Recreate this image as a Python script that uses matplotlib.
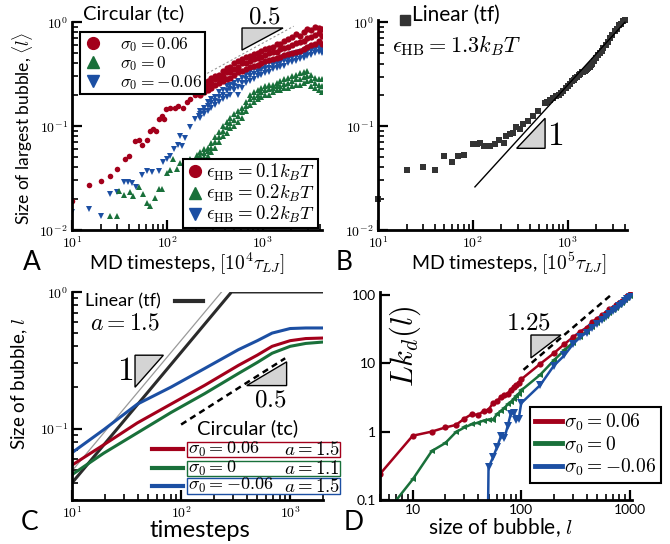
import math
import matplotlib
matplotlib.use('Agg')
import matplotlib.pyplot as plt
from matplotlib.patches import Polygon, Rectangle
from matplotlib.lines import Line2D
from matplotlib import ticker

plt.rcParams['font.family'] = ['Lato', 'DejaVu Sans']
plt.rcParams['mathtext.fontset'] = 'cm'
plt.rcParams['axes.linewidth'] = 2

RED = '#a3001b'
GREEN = '#19703a'
BLUE = '#1c4fa3'
DARK = '#333333'
TRI = '#d4d4d4'

# ---------------- panel A data (circular, tc) ----------------
a_red_x = [10, 15, 20, 25, 30, 36, 40, 46, 51, 54, 61, 66, 71, 76, 81, 87, 93, 98, 106, 120, 129, 145, 161, 173, 196, 210]
a_red_y = [0.019, 0.027, 0.0295, 0.033, 0.039, 0.048, 0.052, 0.072, 0.074, 0.065, 0.073, 0.089, 0.093, 0.089, 0.116,
           0.125, 0.116, 0.145, 0.150, 0.148, 0.156, 0.150, 0.17, 0.18, 0.197, 0.217]
a_blue_x = [10, 15, 20, 25, 29.5, 35, 39, 42.5, 47, 54, 61, 69, 81, 91, 99, 107, 118, 128, 136, 143, 155, 174, 197, 213]
a_blue_y = [0.0149, 0.0158, 0.0135, 0.022, 0.023, 0.029, 0.029, 0.028, 0.026, 0.034, 0.037, 0.036, 0.037, 0.045,
            0.048, 0.051, 0.060, 0.066, 0.080, 0.064, 0.077, 0.097, 0.116, 0.125]
a_green_x = [25, 30, 31, 35, 41, 44, 50, 56, 61, 66, 75, 81, 87, 99, 107, 116, 125, 137, 155, 174, 205]
a_green_y = [0.0136, 0.0136, 0.0235, 0.0216, 0.023, 0.021, 0.026, 0.022, 0.0183, 0.017, 0.0205, 0.0246, 0.0246,
             0.0356, 0.038, 0.048, 0.039, 0.044, 0.046, 0.048, 0.053]

# dense late-time part: upper edge, middle and lower edge of each cloud
a_dense_x = [220, 240, 265, 290, 320, 350, 385, 420, 460, 505, 555, 610, 670, 735, 805, 885, 970, 1065, 1170,
             1280, 1400, 1540, 1690, 1850, 2030, 2230, 2450, 2690, 2950, 3240, 3550, 3900, 4150]
a_red_hi = [0.25, 0.23, 0.27, 0.29, 0.30, 0.31, 0.34, 0.36, 0.37, 0.40, 0.42, 0.44, 0.46, 0.47, 0.49, 0.50, 0.53,
            0.55, 0.56, 0.58, 0.61, 0.62, 0.65, 0.68, 0.72, 0.76, 0.74, 0.80, 0.86, 0.84, 0.90, 0.88, 0.86]
a_red_mid = [0.22, 0.25, 0.24, 0.26, 0.28, 0.29, 0.30, 0.33, 0.33, 0.35, 0.37, 0.40, 0.40, 0.42, 0.44, 0.45, 0.46,
             0.48, 0.50, 0.51, 0.52, 0.55, 0.56, 0.58, 0.60, 0.63, 0.64, 0.66, 0.70, 0.72, 0.75, 0.78, 0.74]
a_red_lo = [0.20, 0.21, 0.22, 0.23, 0.25, 0.26, 0.27, 0.28, 0.29, 0.31, 0.33, 0.34, 0.35, 0.37, 0.38, 0.39, 0.40,
            0.42, 0.43, 0.44, 0.45, 0.46, 0.48, 0.49, 0.50, 0.52, 0.53, 0.55, 0.57, 0.60, 0.62, 0.66, 0.62]
a_blue_hi = [0.14, 0.15, 0.17, 0.18, 0.19, 0.21, 0.22, 0.24, 0.25, 0.26, 0.27, 0.29, 0.31, 0.33, 0.35, 0.36, 0.38,
             0.39, 0.40, 0.42, 0.43, 0.44, 0.46, 0.47, 0.49, 0.50, 0.52, 0.53, 0.55, 0.57, 0.58, 0.60, 0.58]
a_blue_mid = [0.13, 0.14, 0.155, 0.165, 0.175, 0.19, 0.20, 0.215, 0.225, 0.24, 0.235, 0.26, 0.285, 0.30, 0.315,
              0.33, 0.345, 0.355, 0.365, 0.385, 0.395, 0.405, 0.42, 0.435, 0.45, 0.46, 0.48, 0.49, 0.51, 0.525,
              0.54, 0.56, 0.54]
a_blue_lo = [0.12, 0.13, 0.14, 0.15, 0.16, 0.17, 0.18, 0.19, 0.20, 0.22, 0.20, 0.23, 0.26, 0.27, 0.28, 0.30, 0.31,
             0.32, 0.33, 0.35, 0.36, 0.37, 0.38, 0.40, 0.41, 0.42, 0.44, 0.45, 0.47, 0.48, 0.50, 0.52, 0.50]
a_green_hi = [0.056, 0.060, 0.062, 0.068, 0.078, 0.088, 0.10, 0.11, 0.12, 0.13, 0.14, 0.15, 0.17, 0.20, 0.21, 0.22,
              0.23, 0.24, 0.25, 0.25, 0.26, 0.27, 0.28, 0.29, 0.30, 0.31, 0.32, 0.33, 0.34, 0.31, 0.29, 0.28, 0.28]
a_green_mid = [0.051, 0.055, 0.057, 0.062, 0.070, 0.079, 0.090, 0.097, 0.107, 0.115, 0.125, 0.135, 0.155, 0.18,
               0.19, 0.20, 0.21, 0.22, 0.225, 0.23, 0.24, 0.245, 0.255, 0.26, 0.27, 0.28, 0.285, 0.295, 0.305,
               0.275, 0.26, 0.25, 0.245]
a_green_lo = [0.047, 0.050, 0.052, 0.056, 0.062, 0.070, 0.080, 0.085, 0.095, 0.10, 0.11, 0.12, 0.14, 0.16, 0.17,
              0.18, 0.19, 0.20, 0.20, 0.21, 0.22, 0.22, 0.23, 0.23, 0.24, 0.25, 0.25, 0.26, 0.27, 0.24, 0.23, 0.22, 0.21]
a_guide_x = [102, 2120]
a_guide_y = [0.20, 0.91]

# ---------------- panel B data (linear, tf) ----------------
b_x = [10, 20, 30, 40, 50, 60, 70, 80, 100, 110, 120, 130, 150, 170, 190, 210, 225, 245, 265, 285, 310, 335, 380,
       430, 490, 570, 600, 650, 700, 750, 800, 850, 900, 950, 1000, 1050, 1100, 1150, 1200, 1250, 1300, 1350,
       1400, 1450, 1500, 1550, 1600, 1650, 1700, 1750, 1800, 1900, 2000, 2100, 2200, 2270, 2350, 2500, 2650,
       2800, 2950, 3140, 3300, 3500, 3650, 3800, 4000]
b_y = [0.020, 0.038, 0.040, 0.0375, 0.051, 0.0455, 0.051, 0.053, 0.067, 0.068, 0.069, 0.064, 0.065, 0.067, 0.073,
       0.069, 0.080, 0.084, 0.086, 0.097, 0.094, 0.104, 0.112, 0.125, 0.139, 0.168, 0.172, 0.18, 0.185, 0.195,
       0.20, 0.21, 0.22, 0.235, 0.245, 0.255, 0.27, 0.28, 0.29, 0.30, 0.31, 0.32, 0.33, 0.335, 0.34, 0.35, 0.355,
       0.36, 0.37, 0.385, 0.40, 0.42, 0.45, 0.48, 0.51, 0.53, 0.56, 0.60, 0.65, 0.70, 0.76, 0.82, 0.87, 0.93,
       0.97, 1.02, 1.05]
b_guide_x = [105, 4000]
b_guide_y = [0.026, 1.0]

# ---------------- panel C data (model curves) ----------------
c_x = [10, 19.5, 39.7, 80.7, 164, 335, 500, 683, 1000, 1390, 2000]
c_blue = [0.0666, 0.098, 0.151, 0.201, 0.275, 0.378, 0.44, 0.50, 0.54, 0.545, 0.545]
c_red = [0.054, 0.076, 0.11, 0.151, 0.207, 0.29, 0.345, 0.40, 0.44, 0.456, 0.46]
c_green = [0.046, 0.066, 0.093, 0.131, 0.18, 0.253, 0.305, 0.356, 0.40, 0.42, 0.43]
c_lin_x = [10, 290, 2000]
c_lin_y = [0.04, 1.0, 1.0]
c_thin_x = [10, 235]
c_thin_y = [0.049, 1.0]
c_dash_x = [100, 900]
c_dash_y = [0.107, 0.327]

# ---------------- panel D data ----------------
d_x = [5, 10, 15, 20, 25, 30, 35, 40, 45, 50, 55, 60, 65, 70, 75, 80, 85, 90, 95, 100, 150, 200, 250, 300, 350,
       400, 450, 500, 550, 600, 650, 700, 750, 800, 850, 900, 950, 1000]
d_red = [0.24, 0.87, 1.0, 1.15, 1.25, 1.55, 1.8, 1.75, 2.0, 2.1, 2.6, 2.8, 3.2, 3.4, 3.6, 4.1, 4.5, 4.8, 5.2, 5.8,
         9.8, 14, 19, 24, 29, 33, 40, 45, 50, 55, 61, 65, 70, 75, 82, 88, 95, 102]
d_green = [0.05, 0.2, 0.52, 0.68, 0.98, 1.15, 1.28, 1.35, 1.45, 1.5, 1.5, 1.8, 2.0, 2.2, 2.5, 2.7, 3.0, 3.3, 3.6,
           4.0, 6.8, 11, 15.5, 20, 24.5, 29, 34, 39, 44, 49, 54, 60, 65, 71, 77, 83, 89, 96]
d_blue_x = [49, 50, 55, 60, 65, 70, 75, 80, 85, 90, 95, 100, 150, 200, 250, 300, 350, 400, 450, 500, 550, 600,
            650, 700, 750, 800, 850, 900, 950, 1000]
d_blue = [0.02, 0.3, 0.42, 0.6, 0.85, 0.8, 1.2, 1.8, 1.9, 1.5, 1.55, 2.6, 4.8, 9.2, 13, 19, 24, 28, 33, 38, 43,
          48, 53, 58, 63, 68, 74, 80, 86, 93]
d_dash_x = [105, 700]
d_dash_y = [8.0, 105]


def sci(v, pos):
    return r'$\mathsf{10^{%d}}$' % round(math.log10(v))


def style(ax):
    ax.spines['top'].set_visible(False)
    ax.spines['right'].set_visible(False)
    ax.tick_params(which='both', direction='in', top=False, right=False, labelsize=10, pad=3)
    ax.tick_params(which='major', length=7, width=1.6)
    ax.tick_params(which='minor', length=4, width=1.2)


def triangle(ax, pts):
    ax.add_patch(Polygon(pts, closed=True, transform=ax.transAxes, facecolor=TRI, edgecolor='black',
                         lw=1.0, clip_on=False, zorder=5))


fig = plt.figure(figsize=(6.7, 5.44), dpi=100)

# ======================= A =======================
axA = fig.add_axes([0.1075, 0.5772, 0.3731, 0.3824])
axA.set_xscale('log')
axA.set_yscale('log')
axA.plot(a_guide_x, a_guide_y, ls=(0, (2, 2)), color='#999999', lw=0.8)
axA.plot(a_blue_x, a_blue_y, 'v', color=BLUE, ms=4.5, mew=0)
for yy in (a_blue_hi, a_blue_mid, a_blue_lo):
    axA.plot(a_dense_x, yy, 'v', color=BLUE, ms=5, mew=0)
axA.plot(a_green_x, a_green_y, '^', color=GREEN, ms=4.5, mew=0)
for yy in (a_green_hi, a_green_mid, a_green_lo):
    axA.plot(a_dense_x, yy, '^', color=GREEN, ms=5, mew=0)
axA.plot(a_red_x, a_red_y, 'o', color=RED, ms=4, mew=0)
for yy in (a_red_hi, a_red_mid, a_red_lo):
    axA.plot(a_dense_x, yy, 'o', color=RED, ms=4.5, mew=0)
axA.set_xlim(10, 4200)
axA.set_ylim(0.01, 1)
style(axA)
axA.xaxis.set_major_formatter(ticker.FuncFormatter(sci))
axA.yaxis.set_major_formatter(ticker.FuncFormatter(sci))
axA.xaxis.set_minor_formatter(ticker.NullFormatter())

h1 = [Line2D([], [], ls='none', marker='o', color=RED, ms=8.5),
      Line2D([], [], ls='none', marker='^', color=GREEN, ms=8.5),
      Line2D([], [], ls='none', marker='v', color=BLUE, ms=8.5)]
leg1 = axA.legend(h1, [r'$\sigma_0 = 0.06$', r'$\sigma_0 = 0$', r'$\sigma_0 = -0.06$'], loc='upper left',
                  bbox_to_anchor=(0.03, 0.95), fontsize=12.5, fancybox=False, edgecolor='black', framealpha=1,
                  borderaxespad=0, handletextpad=1.0, labelspacing=0.0, borderpad=0.15, handlelength=1.2)
leg1.get_frame().set_linewidth(1.5)
axA.add_artist(leg1)
leg2 = axA.legend(h1, [r'$\epsilon_{\mathrm{HB}} = 0.1k_BT$', r'$\epsilon_{\mathrm{HB}} = 0.2k_BT$',
                       r'$\epsilon_{\mathrm{HB}} = 0.2k_BT$'], loc='upper left', bbox_to_anchor=(0.444, 0.341),
                  fontsize=13.5, fancybox=False, edgecolor='black', framealpha=1, borderaxespad=0,
                  handletextpad=0.1, labelspacing=0.0, borderpad=0.15, handlelength=1.0)
leg2.get_frame().set_linewidth(1.5)
leg2.set_zorder(10)

axA.text(0.044, 1.085, 'Circular (tc)', transform=axA.transAxes, fontsize=14.5, va='top', ha='left')
triangle(axA, [(0.68, 0.971), (0.844, 0.971), (0.68, 0.865)])
axA.text(0.77, 1.03, r'$0.5$', transform=axA.transAxes, fontsize=18, ha='center', va='center')

# ======================= B =======================
axB = fig.add_axes([0.5642, 0.5772, 0.3716, 0.3860])
axB.set_xscale('log')
axB.set_yscale('log')
axB.plot(b_x, b_y, 's', color=DARK, ms=4.5, mew=0, clip_on=False)
axB.plot(b_guide_x, b_guide_y, color='black', lw=1.0)
axB.set_xlim(10, 4200)
axB.set_ylim(0.01, 1.05)
style(axB)
axB.xaxis.set_major_formatter(ticker.FuncFormatter(sci))
axB.yaxis.set_major_formatter(ticker.FuncFormatter(sci))
axB.xaxis.set_minor_formatter(ticker.NullFormatter())
axB.yaxis.set_minor_formatter(ticker.NullFormatter())
axB.plot([0.108], [1.0], 's', color=DARK, ms=7, transform=axB.transAxes, clip_on=False)
axB.text(0.135, 1.07, 'Linear (tf)', transform=axB.transAxes, fontsize=15, va='top', ha='left')
axB.text(0.056, 0.935, r'$\epsilon_{\mathrm{HB}} = 1.3k_BT$', transform=axB.transAxes, fontsize=16,
         va='top', ha='left')
triangle(axB, [(0.557, 0.389), (0.671, 0.532), (0.671, 0.389)])
axB.text(0.68, 0.45, r'$1$', transform=axB.transAxes, fontsize=24, va='center', ha='left')

# ======================= C =======================
axC = fig.add_axes([0.1075, 0.0809, 0.3746, 0.3824])
axC.set_xscale('log')
axC.set_yscale('log')
axC.plot(c_thin_x, c_thin_y, color='#9a9a9a', lw=0.9)
axC.plot(c_lin_x, c_lin_y, color='#2b2b2b', lw=2.2)
axC.plot(c_x, c_blue, color=BLUE, lw=2.2)
axC.plot(c_x, c_red, color=RED, lw=2.2)
axC.plot(c_x, c_green, color=GREEN, lw=2.2)
axC.plot(c_dash_x, c_dash_y, color='black', lw=1.8, ls=(0, (2.5, 1.8)))
axC.set_xlim(10, 2000)
axC.set_ylim(0.03, 1)
style(axC)
axC.xaxis.set_major_formatter(ticker.FuncFormatter(sci))
axC.yaxis.set_major_locator(ticker.FixedLocator([0.1, 1]))
axC.yaxis.set_major_formatter(ticker.FuncFormatter(sci))
axC.xaxis.set_minor_formatter(ticker.NullFormatter())
axC.yaxis.set_minor_formatter(ticker.NullFormatter())

axC.text(0.052, 0.995, 'Linear (tf)', transform=axC.transAxes, fontsize=13, va='top', ha='left')
axC.plot([0.41, 0.52], [0.955, 0.955], transform=axC.transAxes, color='#2b2b2b', lw=3, clip_on=False)
axC.text(0.072, 0.90, r'$a = 1.5$', transform=axC.transAxes, fontsize=17, va='top', ha='left')
triangle(axC, [(0.251, 0.696), (0.364, 0.696), (0.251, 0.542)])
axC.text(0.242, 0.62, r'$1$', transform=axC.transAxes, fontsize=24, va='center', ha='right')
triangle(axC, [(0.696, 0.55), (0.855, 0.664), (0.855, 0.55)])
axC.text(0.79, 0.485, r'$0.5$', transform=axC.transAxes, fontsize=18, va='center', ha='center')
axC.text(0.498, 0.39, 'Circular (tc)', transform=axC.transAxes, fontsize=14.5, va='top', ha='left')

c_leg_rows = [(RED, r'$\sigma_0 = 0.06$', r'$a = 1.5$', 0.209, 0.277),
              (GREEN, r'$\sigma_0 = 0$', r'$a = 1.1$', 0.117, 0.189),
              (BLUE, r'$\sigma_0 = -0.06$', r'$a = 1.5$', 0.029, 0.107)]
for col, lab, alab, y0, y1 in c_leg_rows:
    ym = 0.5 * (y0 + y1)
    axC.plot([0.318, 0.442], [ym, ym], transform=axC.transAxes, color=col, lw=3, clip_on=False)
    axC.add_patch(Rectangle((0.458, y0), 0.61, y1 - y0, transform=axC.transAxes, facecolor='white',
                            edgecolor=col, lw=1.0, clip_on=False, zorder=6))
    axC.text(0.462, ym, lab, transform=axC.transAxes, fontsize=13, va='center', ha='left', zorder=7)
    axC.text(1.068, ym, alab, transform=axC.transAxes, fontsize=13.5, va='center', ha='right', zorder=7)

# ======================= D =======================
axD = fig.add_axes([0.5672, 0.0809, 0.3761, 0.3824])
axD.set_xscale('log')
axD.set_yscale('log')
axD.plot(d_x, d_red, '-o', color=RED, lw=1.8, ms=4.5, mew=0)
axD.plot(d_x, d_green, '-<', color=GREEN, lw=1.8, ms=5, mew=0)
axD.plot(d_blue_x, d_blue, '-v', color=BLUE, lw=1.8, ms=5.5, mew=0)
axD.plot(d_dash_x, d_dash_y, color='black', lw=1.8, ls=(0, (2.5, 1.8)))
axD.set_xlim(5, 1050)
axD.set_ylim(0.1, 110)
style(axD)
fmt = ticker.FuncFormatter(lambda v, p: '%g' % v)
axD.xaxis.set_major_formatter(fmt)
axD.yaxis.set_major_formatter(fmt)
axD.xaxis.set_minor_formatter(ticker.NullFormatter())
axD.yaxis.set_minor_locator(ticker.NullLocator())
triangle(axD, [(0.599, 0.793), (0.718, 0.793), (0.599, 0.683)])
axD.text(0.59, 0.855, r'$1.25$', transform=axD.transAxes, fontsize=18, va='center', ha='center')
axD.text(0.10, 0.74, r'$Lk_d(l)$', transform=axD.transAxes, fontsize=22, va='center', ha='center',
         rotation=90)
hD = [Line2D([], [], color=RED, lw=3.5), Line2D([], [], color=GREEN, lw=3.5), Line2D([], [], color=BLUE, lw=3.5)]
legD = axD.legend(hD, [r'$\sigma_0 = 0.06$', r'$\sigma_0 = 0$', r'$\sigma_0 = -0.06$'], loc='lower left',
                  bbox_to_anchor=(0.595, 0.083), fontsize=14, fancybox=False, edgecolor='black', framealpha=1,
                  borderaxespad=0, handletextpad=0.1, labelspacing=0.05, borderpad=0.25, handlelength=1.4)
legD.get_frame().set_linewidth(1.5)

# ======================= labels =======================
fig.text(0.033, 0.765, r'Size of largest bubble, $\langle l\rangle$', rotation=90, fontsize=12.5,
         ha='center', va='center')
fig.text(0.030, 0.294, r'Size of bubble, $l$', rotation=90, fontsize=13.5, ha='center', va='center')
fig.text(0.279, 0.514, r'MD timesteps, $[10^4\tau_{LJ}]$', fontsize=14, ha='center', va='center')
fig.text(0.759, 0.514, r'MD timesteps, $[10^5\tau_{LJ}]$', fontsize=14, ha='center', va='center')
fig.text(0.299, 0.024, 'timesteps', fontsize=17, ha='center', va='center')
fig.text(0.746, 0.030, r'size of bubble, $l$', fontsize=15, ha='center', va='center')
for lab, x, y in [('A', 0.048, 0.518), ('B', 0.514, 0.518), ('C', 0.044, 0.040), ('D', 0.528, 0.040)]:
    fig.text(x, y, lab, fontsize=19, ha='center', va='center')

fig.savefig('out.png', dpi=100)
